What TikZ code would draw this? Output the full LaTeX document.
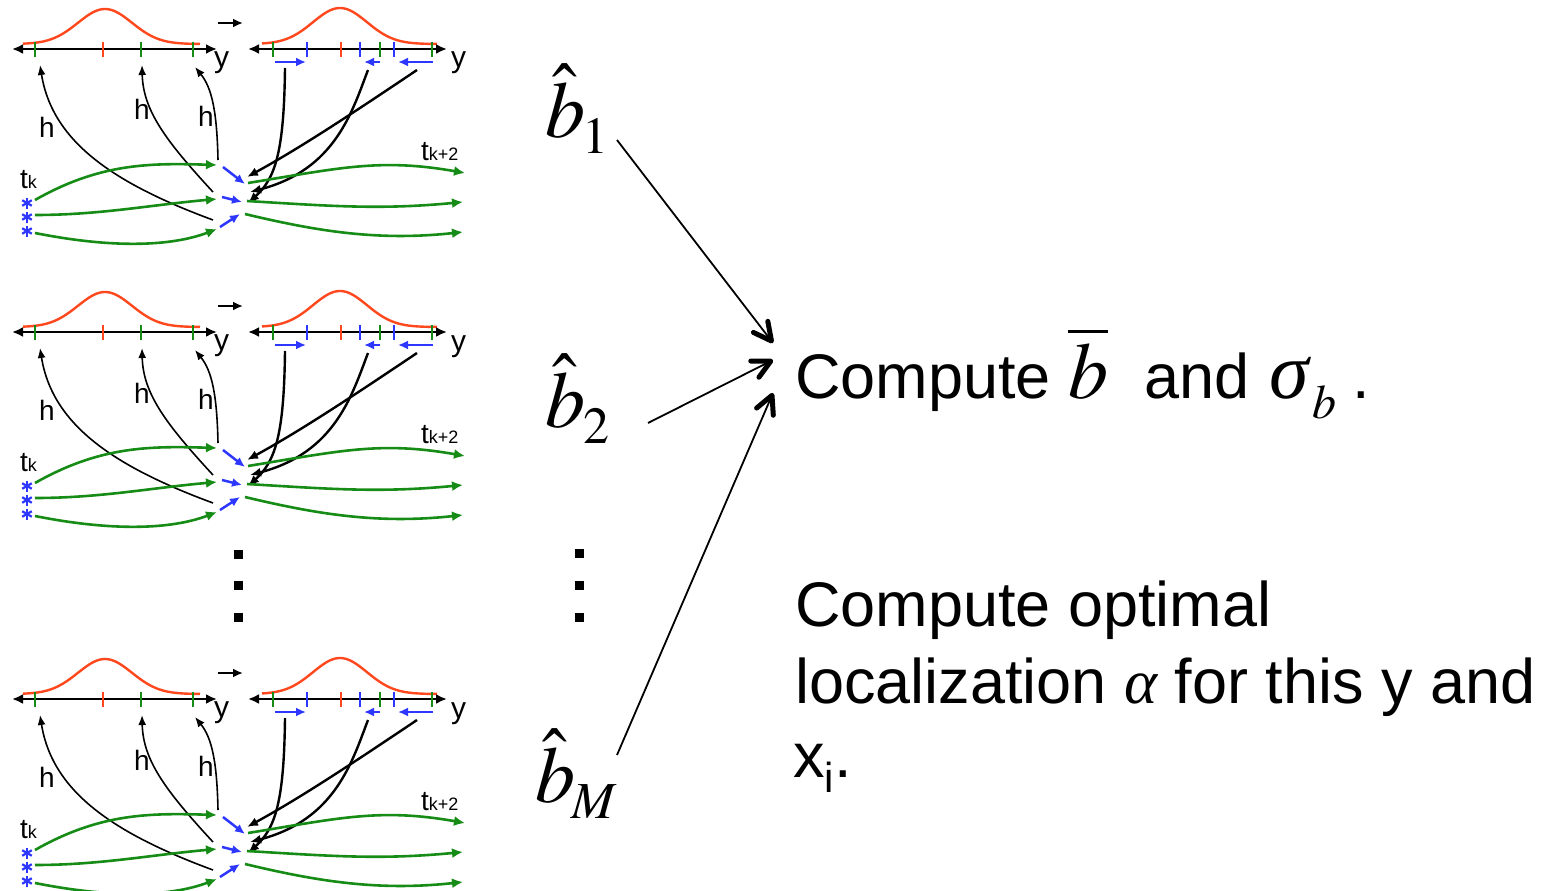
\documentclass[tikz,border=0pt]{standalone}
\usepackage{mathptmx}
\usepackage[no-math]{fontspec}
\setmainfont{Liberation Sans}
\newfontfamily\grk{Liberation Serif}
\usetikzlibrary{arrows.meta}
\definecolor{gaussred}{RGB}{255,72,30}
\definecolor{ensgreen}{RGB}{22,140,22}
\definecolor{incblue}{RGB}{45,55,255}
\newcommand{\lowsub}[2]{\raisebox{-#1}{#2}}
\begin{document}
\begin{tikzpicture}[x=1pt,y=-1pt,
  axis/.style={line width=2.8pt,{Latex[length=11pt,width=10pt]}-{Latex[length=11pt,width=10pt]}},
  gauss/.style={draw=gaussred,line width=2.4pt},
  tick/.style={line width=2.6pt},
  hlink/.style={line width=1.6pt,-{Latex[length=10pt,width=8pt]}},
  back/.style={line width=2.4pt,-{Latex[length=11pt,width=9pt]}},
  ens/.style={draw=ensgreen,line width=2.6pt,-{Latex[length=11pt,width=10pt]}},
  inc/.style={draw=incblue,line width=2.5pt,-{Latex[length=10pt,width=9pt]}},
  lab/.style={inner sep=0pt,anchor=base west},
  star/.style={draw=incblue,line width=2.2pt},
  dot/.style={fill=black,minimum size=9pt,inner sep=0pt},
  feed/.style={line width=1.8pt,-{Straight Barb[angle=54:20pt,line width=5pt,round]}},
  big/.style={lab,font=\fontsize{63}{63}\selectfont},
  mbig/.style={lab,font=\fontsize{80}{80}\selectfont}]
\useasboundingbox (0,0) rectangle (1551,891);

% one ensemble panel, repeated down the left column
\foreach \dy in {0,283,650}{
\begin{scope}[shift={(0,\dy)}]
  % prior on the left
  \draw[gauss] plot[domain=23:200,samples=70] (\x,{44-35*exp(-0.5*((\x-105)/27)^2)});
  \draw[axis] (12,49) -- (217,49);
  \foreach \tx/\tc in {35/ensgreen,103/gaussred,141/ensgreen,193/ensgreen}
    \draw[tick,\tc] (\tx,42) -- (\tx,57);
  \node[lab,font=\fontsize{30}{30}\selectfont] (yl) at (214,67) {y};
  % update arrow
  \draw[line width=2.6pt,-{Latex[length=10pt,width=9pt]}] (218,23) -- (243,23);
  % posterior on the right
  \draw[gauss] plot[domain=262:437,samples=70] (\x,{44-36*exp(-0.5*((\x-340)/27)^2)});
  \draw[axis] (248,49) -- (447,49);
  \foreach \tx/\tc in {273/ensgreen,307/incblue,341/gaussred,360/incblue,380/ensgreen,394/incblue,432/ensgreen}
    \draw[tick,\tc] (\tx,42) -- (\tx,57);
  \node[lab,font=\fontsize{30}{30}\selectfont] (yr) at (451,68) {y};
  % increments
  \draw[inc] (275,62) -- (306,62);
  \draw[inc] (380,62) -- (364,62);
  \draw[inc] (433,62) -- (398,62);
  % observation operator
  \draw[hlink] (213,220) .. controls (110,182) and (52,140) .. (40,65);
  \draw[hlink] (213,192) .. controls (165,140) and (143,110) .. (142,65);
  \draw[hlink] (218,160) .. controls (217,112) and (212,88) .. (195,67);
  \node[lab,font=\fontsize{28}{28}\selectfont] (h1) at (39,137) {h};
  \node[lab,font=\fontsize{28}{28}\selectfont] (h2) at (134,120) {h};
  \node[lab,font=\fontsize{28}{28}\selectfont] (h3) at (198,126) {h};
  % increments mapped back to the state
  \draw[back] (285,68) .. controls (284,150) and (276,178) .. (248,203);
  \draw[back] (368,70) .. controls (352,112) and (335,170) .. (250,192);
  \draw[back] (417,70) .. controls (350,115) and (300,148) .. (247,177);
  % forecast members
  \draw[ens] (35,200) .. controls (100,163) and (150,163) .. (217,165);
  \draw[ens] (35,215) .. controls (100,215) and (150,205) .. (217,199);
  \draw[ens] (35,233) .. controls (110,248) and (170,247) .. (217,229);
  \draw[inc] (223,167) -- (245,184);
  \draw[inc] (222,197) -- (242,202);
  \draw[inc] (220,227) -- (240,214);
  \draw[ens] (248,183) .. controls (340,168) and (380,158) .. (465,173);
  \draw[ens] (247,201) .. controls (330,206) and (380,210) .. (463,202);
  \draw[ens] (245,214) .. controls (320,232) and (380,241) .. (463,232);
  % ensemble members
  \foreach \sy in {203,217,231}{
    \draw[star] (27,\sy-5.5) -- (27,\sy+5.5);
    \draw[star] (22.2,\sy-2.75) -- (31.8,\sy+2.75);
    \draw[star] (22.2,\sy+2.75) -- (31.8,\sy-2.75);
  }
  \node[lab] (tk) at (20,188) {\fontsize{28}{28}\selectfont t\fontsize{18}{18}\selectfont k};
  \node[lab] (tk2) at (421,160) {\fontsize{28}{28}\selectfont t\fontsize{18}{18}\selectfont k+2};
\end{scope}
}

% vertical ellipses
\node[dot] (ld1) at (238,554) {};
\node[dot] (ld2) at (238,585) {};
\node[dot] (ld3) at (238,617) {};
\node[dot] (md1) at (579,553) {};
\node[dot] (md2) at (579,585) {};
\node[dot] (md3) at (579,617) {};

% estimates from each ensemble
\node[mbig] (b1) at (545,137) {$\hat{b}$\kern-3pt\lowsub{16pt}{\fontsize{52}{52}\selectfont$1$}};
\node[mbig] (b2) at (545,427) {$\hat{b}$\kern-2pt\lowsub{16pt}{\fontsize{52}{52}\selectfont$2$}};
\node[mbig] (bM) at (535,802) {$\hat{b}$\kern-4pt\lowsub{16pt}{\fontsize{52}{52}\selectfont$M$}};

\coordinate (s1) at (617,140);
\coordinate (s2) at (648,423);
\coordinate (s3) at (617,755);
\coordinate (t1) at (773,343);
\coordinate (t2) at (773,360);
\coordinate (t3) at (773,393);
\draw[feed] (s1) -- (t1);
\draw[feed] (s2) -- (t2);
\draw[feed] (s3) -- (t3);

\node[big] (comp) at (795,398) {Compute {\fontsize{80}{80}\selectfont$\overline{b}$}\hspace{36pt}and\hspace{20pt}{\fontsize{80}{80}\selectfont\grk\itshape σ}\kern4pt\lowsub{20pt}{\fontsize{48}{48}\selectfont$b$}\hspace{16pt}.};

\node[big] (opt1) at (795,626) {Compute optimal};
\node[big] (opt2) at (795,703) {localization {\grk\itshape α} for this y and};
\node[big] (opt3) at (793,777) {x\raisebox{-15pt}{\fontsize{42}{42}\selectfont i}.};
\end{tikzpicture}
\end{document}
